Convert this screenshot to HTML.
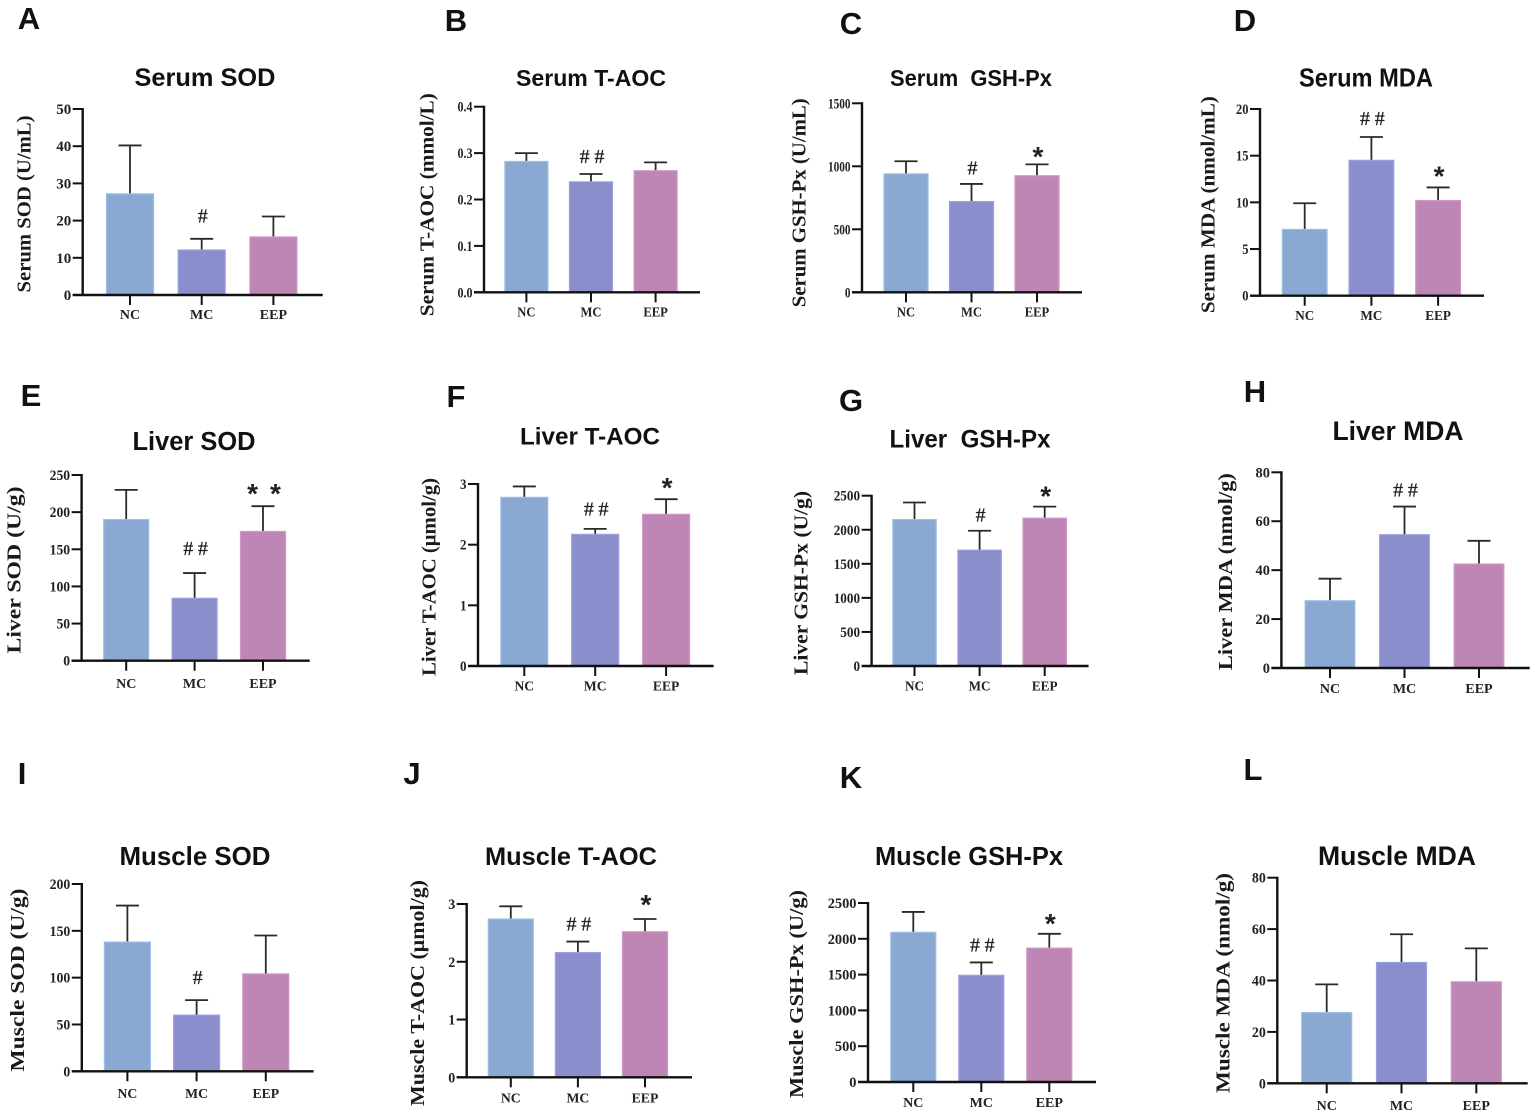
<!DOCTYPE html>
<html>
<head>
<meta charset="utf-8">
<style>
html,body{margin:0;padding:0;background:#fff;width:1535px;height:1116px;overflow:hidden}
svg{display:block}
.tick{font-family:"Liberation Serif",serif;font-weight:bold;font-size:15px;fill:#222}
.cat{font-family:"Liberation Serif",serif;font-weight:bold;font-size:14px;fill:#222}
.ylab{font-family:"Liberation Serif",serif;font-weight:bold;font-size:20px;fill:#1a1a1a}
.title{font-family:"Liberation Sans",sans-serif;font-weight:bold;fill:#111}
.letter{font-family:"Liberation Sans",sans-serif;font-weight:bold;font-size:31px;fill:#111}
.hash{font-family:"Liberation Serif",serif;font-size:20px;fill:#222;stroke:#222;stroke-width:.3px}
.star{font-family:"Liberation Sans",sans-serif;font-weight:bold;font-size:28px;fill:#222}
</style>
</head>
<body>
<svg id="figure" xmlns="http://www.w3.org/2000/svg" width="1535" height="1116" viewBox="0 0 1535 1116"></svg>
<script>
const categories = ["NC", "MC", "EEP"];
const barColors = ["#89a9d2", "#8a8ecd", "#bd86b4"];
const barEdges = ["#9dbfe4", "#9ca0e0", "#cf98c6"];

const panelLetters = ["A","B","C","D","E","F","G","H","I","J","K","L"];
const panelTitles = ["Serum SOD","Serum T-AOC","Serum  GSH-Px","Serum MDA","Liver SOD","Liver T-AOC","Liver  GSH-Px","Liver MDA","Muscle SOD","Muscle T-AOC","Muscle GSH-Px","Muscle MDA"];
const yAxisTitles = ["Serum SOD (U/mL)","Serum T-AOC (mmol/L)","Serum GSH-Px (U/mL)","Serum MDA (nmol/mL)","Liver SOD (U/g)","Liver T-AOC (μmol/g)","Liver GSH-Px (U/g)","Liver MDA (nmol/g)","Muscle SOD (U/g)","Muscle T-AOC (μmol/g)","Muscle GSH-Px (U/g)","Muscle MDA (nmol/g)"];

const serumSodMeans = [27.2, 12.1, 15.6];
const serumSodErrorTops = [40.2, 15.1, 21.1];
const serumSodTicks = ["0","10","20","30","40","50"];
const serumSodMarks = ["", "#", ""];

const serumTaocMeans = [0.282, 0.238, 0.262];
const serumTaocErrorTops = [0.3, 0.255, 0.28];
const serumTaocTicks = ["0.0","0.1","0.2","0.3","0.4"];
const serumTaocMarks = ["", "##", ""];

const serumGshMeans = [940, 720, 925];
const serumGshErrorTops = [1040, 860, 1015];
const serumGshTicks = ["0","500","1000","1500"];
const serumGshMarks = ["", "#", "*"];

const serumMdaMeans = [7.1, 14.5, 10.2];
const serumMdaErrorTops = [9.9, 17, 11.6];
const serumMdaTicks = ["0","5","10","15","20"];
const serumMdaMarks = ["", "##", "*"];

const liverSodMeans = [190, 84, 174];
const liverSodErrorTops = [230, 118, 208];
const liverSodTicks = ["0","50","100","150","200","250"];
const liverSodMarks = ["", "##", "**"];

const liverTaocMeans = [2.78, 2.17, 2.5];
const liverTaocErrorTops = [2.96, 2.26, 2.75];
const liverTaocTicks = ["0","1","2","3"];
const liverTaocMarks = ["", "##", "*"];

const liverGshMeans = [2150, 1700, 2170];
const liverGshErrorTops = [2400, 1985, 2340];
const liverGshTicks = ["0","500","1000","1500","2000","2500"];
const liverGshMarks = ["", "#", "*"];

const liverMdaMeans = [27.5, 54.5, 42.5];
const liverMdaErrorTops = [36.5, 66, 52];
const liverMdaTicks = ["0","20","40","60","80"];
const liverMdaMarks = ["", "##", ""];

const muscleSodMeans = [138, 60, 104];
const muscleSodErrorTops = [177, 76, 145];
const muscleSodTicks = ["0","50","100","150","200"];
const muscleSodMarks = ["", "#", ""];

const muscleTaocMeans = [2.74, 2.16, 2.52];
const muscleTaocErrorTops = [2.96, 2.35, 2.74];
const muscleTaocTicks = ["0","1","2","3"];
const muscleTaocMarks = ["", "##", "*"];

const muscleGshMeans = [2090, 1490, 1870];
const muscleGshErrorTops = [2375, 1670, 2070];
const muscleGshTicks = ["0","500","1000","1500","2000","2500"];
const muscleGshMarks = ["", "##", "*"];

const muscleMdaMeans = [27.5, 47, 39.5];
const muscleMdaErrorTops = [38.5, 58, 52.5];
const muscleMdaTicks = ["0","20","40","60","80"];
const muscleMdaMarks = ["", "", ""];

const panelMeans = [serumSodMeans,serumTaocMeans,serumGshMeans,serumMdaMeans,liverSodMeans,liverTaocMeans,liverGshMeans,liverMdaMeans,muscleSodMeans,muscleTaocMeans,muscleGshMeans,muscleMdaMeans];
const panelErrorTops = [serumSodErrorTops,serumTaocErrorTops,serumGshErrorTops,serumMdaErrorTops,liverSodErrorTops,liverTaocErrorTops,liverGshErrorTops,liverMdaErrorTops,muscleSodErrorTops,muscleTaocErrorTops,muscleGshErrorTops,muscleMdaErrorTops];
const panelTicks = [serumSodTicks,serumTaocTicks,serumGshTicks,serumMdaTicks,liverSodTicks,liverTaocTicks,liverGshTicks,liverMdaTicks,muscleSodTicks,muscleTaocTicks,muscleGshTicks,muscleMdaTicks];
const panelMarks = [serumSodMarks,serumTaocMarks,serumGshMarks,serumMdaMarks,liverSodMarks,liverTaocMarks,liverGshMarks,liverMdaMarks,muscleSodMarks,muscleTaocMarks,muscleGshMarks,muscleMdaMarks];

/* Panel frame geometry (not data) */
const frames = [
 {ax:82.7, end:322.7, y0:295,    yt:109,   c0:130,    step:71.7, w:47,   catY:319,    tx:205,  ty:86,  tf:25,   tl:141, lx:30.5,  ly:204,   ll:177, gx:29,   gy:29,  hs:1,   cs:1,   hg:23, sg:17},
 {ax:484,  end:700,   y0:292.3,  yt:106.7, c0:526.4,  step:64.6, w:43,   catY:316.7,  tx:591,  ty:86,  tf:23,   tl:150, lx:433.3, ly:204.7, ll:223, gx:456,  gy:31,  hs:.8,  cs:.9,  hg:18, sg:17},
 {ax:862,  end:1082,  y0:292.3,  yt:103.3, c0:906,    step:65.5, w:44,   catY:316.7,  tx:971,  ty:86,  tf:23.5, tl:162, lx:805.5, ly:202.8, ll:209, gx:851,  gy:34,  hs:.75, cs:.9,  hg:16, sg:14.5},
 {ax:1260, end:1484,  y0:295.7,  yt:109,   c0:1304.7, step:66.7, w:44.7, catY:320,    tx:1366, ty:86.7,tf:26,   tl:134, lx:1214.5,ly:204.7, ll:217, gx:1245, gy:31,  hs:.83, cs:.94, hg:19, sg:18},
 {ax:81.6, end:309.7, y0:660.7,  yt:475,   c0:126.2,  step:68.4, w:45,   catY:688,    tx:194,  ty:450, tf:25.5, tl:123, lx:20.5,  ly:570,   ll:167, gx:31,   gy:406, hs:.91, cs:1,   hg:25, sg:19},
 {ax:478,  end:713.6, y0:666,    yt:484,   c0:524.3,  step:70.9, w:47,   catY:690.7,  tx:590,  ty:444.3,tf:24,  tl:140, lx:435.5, ly:577,   ll:198, gx:456,  gy:407, hs:.87, cs:.97, hg:20, sg:18},
 {ax:871.6,end:1088.6,y0:666,    yt:495.7, c0:914.5,  step:65.1, w:43.4, catY:690.7,  tx:970,  ty:447.3,tf:25,  tl:161, lx:807.5, ly:583,   ll:184, gx:851,  gy:411, hs:.88, cs:.94, hg:16, sg:17},
 {ax:1281.4,end:1529.7,y0:668,   yt:472.3, c0:1330,   step:74.5, w:49.7, catY:693,    tx:1398, ty:440, tf:26.5, tl:131, lx:1232,  ly:571.7, ll:197, gx:1255, gy:402, hs:.96, cs:1,   hg:17, sg:17},
 {ax:81.8, end:313.6, y0:1071.3, yt:884,   c0:127.4,  step:69.2, w:46,   catY:1098,   tx:195,  ty:865, tf:26,   tl:151, lx:24,    ly:980,   ll:183, gx:22,   gy:784, hs:.92, cs:.98, hg:22.7,sg:17},
 {ax:466.7,end:692,   y0:1077.3, yt:904,   c0:510.8,  step:67.1, w:45,   catY:1102.7, tx:571,  ty:865, tf:25,   tl:172, lx:424,   ly:993,   ll:226, gx:412,  gy:784, hs:.93, cs:.98, hg:18, sg:21},
 {ax:868,  end:1096,  y0:1082,   yt:903,   c0:913.3,  step:68,   w:45,   catY:1107,   tx:969,  ty:865, tf:25.5, tl:188, lx:803,   ly:994,   ll:208, gx:851,  gy:788, hs:.96, cs:1,   hg:17.6,sg:17},
 {ax:1277.3,end:1527.7,y0:1083.3,yt:877.7, c0:1326.7, step:74.8, w:50,   catY:1110,   tx:1397, ty:865, tf:26.5, tl:158, lx:1229.5,ly:983,   ll:220, gx:1253, gy:780, hs:.93, cs:1,   hg:17, sg:17}
];

const NS = "http://www.w3.org/2000/svg";
const figure = document.getElementById("figure");
function make(parent, tag, attrs, text) {
  const node = document.createElementNS(NS, tag);
  for (const k in attrs) node.setAttribute(k, attrs[k]);
  if (text !== undefined) node.textContent = text;
  parent.appendChild(node);
  return node;
}
function squeeze(node, factor) {
  if (factor === 1) return;
  node.setAttribute("textLength", node.getComputedTextLength() * factor);
  node.setAttribute("lengthAdjust", "spacingAndGlyphs");
}

frames.forEach(function (f, p) {
  const ticks = panelTicks[p];
  const yMax = parseFloat(ticks[ticks.length - 1]);
  const yScale = function (v) { return f.y0 - (v / yMax) * (f.y0 - f.yt); };
  const xScale = function (i) { return f.c0 + i * f.step; };
  const id = panelLetters[p].toLowerCase();

  const g = make(figure, "g", {});
  
  

  const letter = make(g, "text", {class:"letter", x:f.gx, y:f.gy, "text-anchor":"middle"}, panelLetters[p]);
  
  

  const title = make(g, "text", {class:"title", x:f.tx, y:f.ty, "font-size":f.tf, "text-anchor":"middle", textLength:f.tl, lengthAdjust:"spacingAndGlyphs"}, panelTitles[p]);
  title.style.whiteSpace = "pre";
  
  

  const ylab = make(g, "text", {class:"ylab", transform:"translate(" + f.lx + "," + f.ly + ") rotate(-90)", "text-anchor":"middle", textLength:f.ll, lengthAdjust:"spacingAndGlyphs"}, yAxisTitles[p]);
  
  

  categories.forEach(function (cat, i) {
    const top = yScale(panelMeans[p][i]);
    const cx = xScale(i);
    const errY = yScale(panelErrorTops[p][i]);

    const stem = make(g, "line", {x1:cx, x2:cx, y1:top, y2:errY, stroke:"#2a2a2a", "stroke-width":1.8});
    
    

    const cap = make(g, "line", {x1:cx - 11.5, x2:cx + 11.5, y1:errY, y2:errY, stroke:"#2a2a2a", "stroke-width":1.8});
    
    

    const bar = make(g, "rect", {x:cx - f.w / 2, y:top, width:f.w, height:f.y0 - top, fill:barColors[i], stroke:barEdges[i], "stroke-width":1.2});
    
    

    const mark = panelMarks[p][i];
    if (mark) {
      const isHash = mark.charAt(0) === "#";
      const spacing = mark.length > 1 ? (isHash ? 4.7 : 12) : 0;
      const sig = make(g, "text", {class:isHash ? "hash" : "star", x:cx + 1 + spacing / 2, y:isHash ? errY - f.hg + 6.8 : errY - f.sg + 16, "text-anchor":"middle", "letter-spacing":spacing}, mark);
      
      
    }

    const xt = make(g, "line", {x1:cx, x2:cx, y1:f.y0, y2:f.y0 + 10, stroke:"#111", "stroke-width":2});
    
    

    const lab = make(g, "text", {class:"cat", x:cx, y:f.catY, "text-anchor":"middle"}, cat);
    squeeze(lab, f.cs);
    
    
  });

  ticks.forEach(function (t) {
    const y = yScale(parseFloat(t));
    const tk = make(g, "line", {x1:f.ax - 10, x2:f.ax, y1:y, y2:y, stroke:"#111", "stroke-width":2});
    
    

    const tl = make(g, "text", {class:"tick", x:f.ax - 11.5, y:y + 5, "text-anchor":"end"}, t);
    squeeze(tl, f.hs);
    
    
  });

  const yAxis = make(g, "line", {x1:f.ax, x2:f.ax, y1:f.yt - 1, y2:f.y0 + 1, stroke:"#111", "stroke-width":2.4});
  
  

  const xAxis = make(g, "line", {x1:f.ax - 10, x2:f.end, y1:f.y0, y2:f.y0, stroke:"#111", "stroke-width":2.4});
  
  
});
</script>
</body>
</html>
